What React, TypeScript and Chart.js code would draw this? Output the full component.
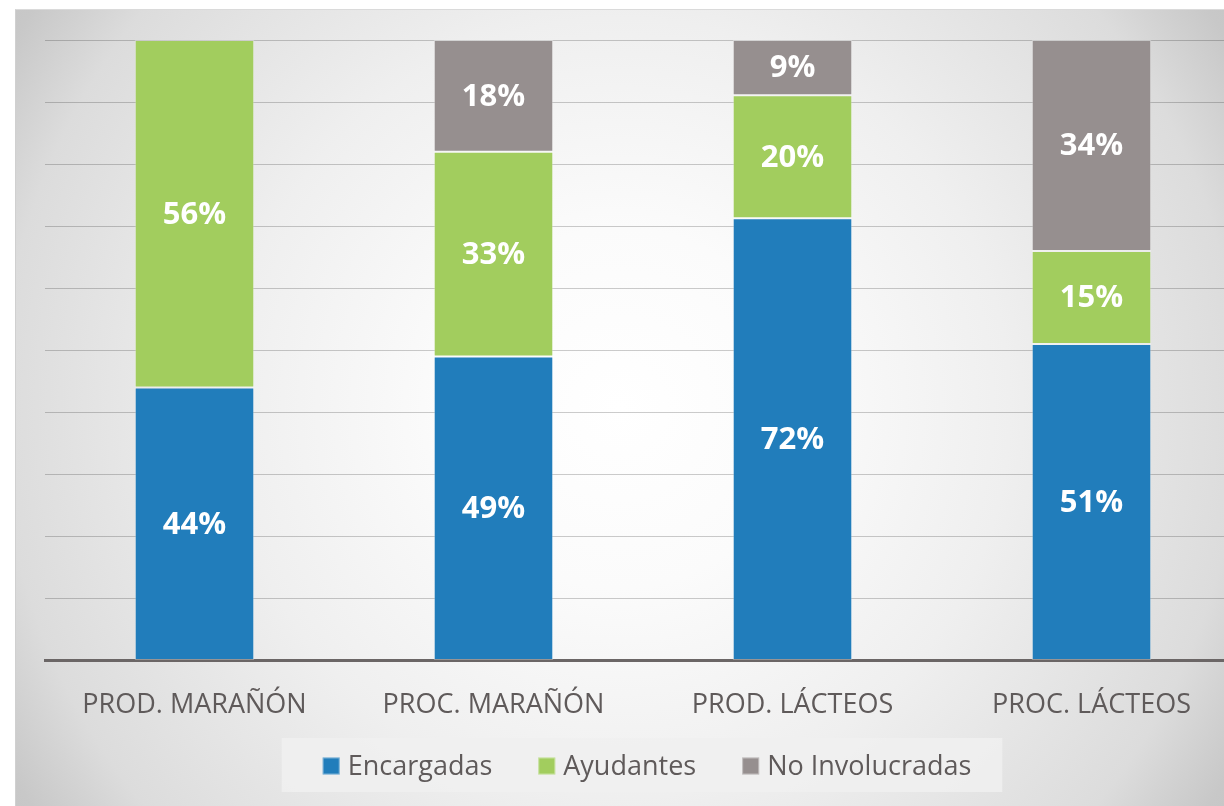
import React, { useEffect, useRef } from "react";
import { Chart, registerables } from "chart.js";

Chart.register(...registerables);

const categories = ["PROD. MARAÑÓN", "PROC. MARAÑÓN", "PROD. LÁCTEOS", "PROC. LÁCTEOS"];
const encargadas = [44, 49, 72, 51];
const ayudantes = [56, 33, 20, 15];
const noInvolucradas = [0, 18, 9, 34];
const seriesNames = ["Encargadas", "Ayudantes", "No Involucradas"];
const seriesColors = ["#217dbb", "#a2cd5e", "#968f8f"];
const yTicks = [0, 10, 20, 30, 40, 50, 60, 70, 80, 90, 100];

const FONT = "'Open Sans', 'DejaVu Sans', sans-serif";

const rawSeries = [encargadas, ayudantes, noInvolucradas];
const totals = categories.map((_, i) => rawSeries.reduce((s, arr) => s + arr[i], 0));
const pctSeries = rawSeries.map((arr) => arr.map((v, i) => (v / totals[i]) * 100));

const dataLabelPlugin = {
  id: "dataLabels",
  afterDatasetsDraw(chart: any) {
    const ctx = chart.ctx;
    ctx.save();
    ctx.font = `bold 31px ${FONT}`;
    ctx.fillStyle = "#ffffff";
    ctx.textAlign = "center";
    ctx.textBaseline = "middle";
    chart.data.datasets.forEach((ds: any, di: number) => {
      const meta = chart.getDatasetMeta(di);
      meta.data.forEach((el: any, i: number) => {
        const raw = rawSeries[di][i];
        if (!raw) return;
        const y = (el.y + el.base) / 2;
        ctx.fillText(`${raw}%`, el.x, y + 1);
      });
    });
    ctx.restore();
  },
};

const legendPlugin = {
  id: "customLegend",
  afterDraw(chart: any) {
    const ctx = chart.ctx;
    ctx.save();
    ctx.font = `27px ${FONT}`;
    const box = 17;
    const gapText = 8;
    const gapItem = 46;
    const widths = seriesNames.map((n) => box + gapText + ctx.measureText(n).width);
    const total = widths.reduce((a, b) => a + b, 0) + gapItem * (seriesNames.length - 1);
    const cx = 632;
    const cy = 757;
    const padX = 36;
    ctx.fillStyle = "rgba(240,240,240,0.85)";
    ctx.fillRect(cx - 5 - total / 2 - padX, 729, total + padX * 2, 54);
    let x = cx - total / 2;
    seriesNames.forEach((n, i) => {
      ctx.fillStyle = seriesColors[i];
      ctx.fillRect(x, cy - box / 2, box, box);
      ctx.strokeStyle = "rgba(255,255,255,0.4)";
      ctx.lineWidth = 1;
      ctx.strokeRect(x + 0.5, cy - box / 2 + 0.5, box - 1, box - 1);
      ctx.fillStyle = "#5f5a5a";
      ctx.textAlign = "left";
      ctx.textBaseline = "middle";
      ctx.fillText(n, x + box + gapText, cy + 1);
      x += widths[i] + gapItem;
    });
    ctx.restore();
  },
};

export default function App() {
  const canvasRef = useRef<HTMLCanvasElement | null>(null);

  useEffect(() => {
    if (!canvasRef.current) return;
    const chart = new Chart(canvasRef.current, {
      type: "bar",
      data: {
        labels: categories,
        datasets: seriesNames.map((name, i) => ({
          label: name,
          data: pctSeries[i],
          backgroundColor: seriesColors[i],
          borderColor: "rgba(255,255,255,0.3)",
          borderWidth: 1,
          borderSkipped: false,
          barPercentage: 0.4,
          categoryPercentage: 1,
        })),
      },
      options: {
        responsive: false,
        animation: false,
        devicePixelRatio: 1,
        layout: { padding: { left: 30, right: 14, top: 31, bottom: 55 } },
        plugins: {
          legend: { display: false },
          tooltip: { enabled: false },
          title: { display: false },
        },
        scales: {
          x: {
            stacked: true,
            grid: { display: false, drawTicks: false },
            border: { display: true, color: "#6b6666", width: 3 },
            ticks: {
              font: { family: FONT, size: 27 },
              color: "#5f5a5a",
              padding: 29,
              maxRotation: 0,
              autoSkip: false,
            },
          },
          y: {
            stacked: true,
            min: 0,
            max: 100,
            afterBuildTicks: (scale: any) => {
              scale.ticks = yTicks.map((v) => ({ value: v }));
            },
            ticks: { display: false },
            grid: { color: "rgba(0,0,0,0.2)", lineWidth: 1, drawTicks: false },
            border: { display: false },
          },
        },
      },
      plugins: [dataLabelPlugin, legendPlugin],
    });
    return () => chart.destroy();
  }, []);

  return (
    <div
      style={{
        position: "absolute",
        left: 0,
        top: 0,
        width: 1224,
        height: 806,
        overflow: "hidden",
        background: "#ffffff",
      }}
    >
      <div
        style={{
          position: "absolute",
          left: 15,
          top: 9,
          width: 1240,
          height: 797,
          background:
            "radial-gradient(circle at 604px 398px, #ffffff 0px, #fbfbfb 180px, #efefef 390px, #dcdcdc 620px, #c8c8c8 710px, #c0c0c0 820px)",
          borderTop: "1px solid #dadada",
          borderLeft: "1px solid #d0d0d0",
          boxSizing: "border-box",
        }}
      >
        <canvas ref={canvasRef} width={1240} height={797} style={{ display: "block", position: "absolute", left: -1, top: -1 }} />
      </div>
    </div>
  );
}
